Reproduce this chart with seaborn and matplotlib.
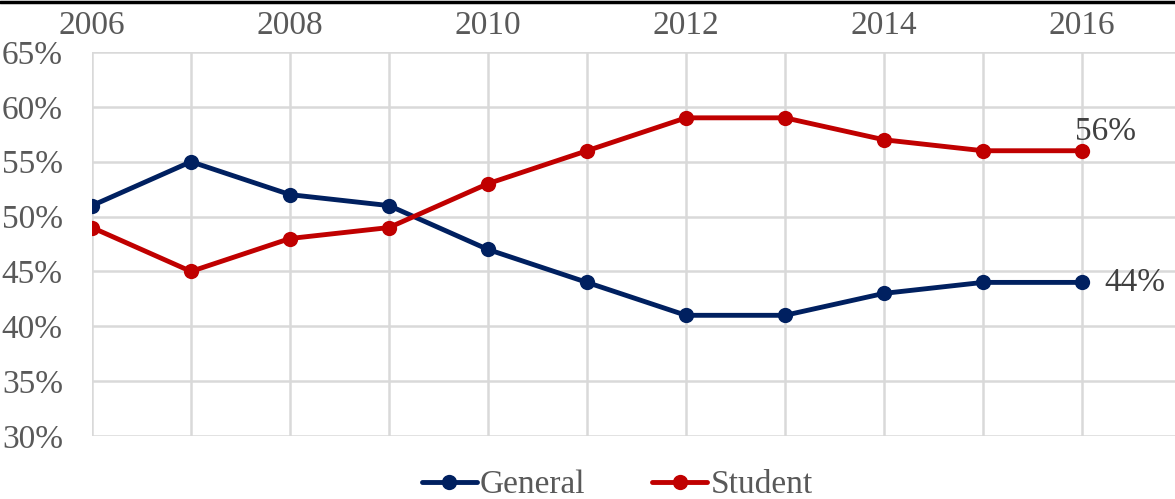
import matplotlib
matplotlib.use("Agg")
import matplotlib.pyplot as plt
import seaborn as sns
import pandas as pd
from matplotlib.lines import Line2D
from matplotlib.ticker import FixedLocator, FuncFormatter

years = [2006, 2007, 2008, 2009, 2010, 2011, 2012, 2013, 2014, 2015, 2016]
general = [51, 55, 52, 51, 47, 44, 41, 41, 43, 44, 44]
student = [49, 45, 48, 49, 53, 56, 59, 59, 57, 56, 56]
series_names = ["General", "Student"]
colors = ["#002060", "#C00000"]
y_ticks = [30, 35, 40, 45, 50, 55, 60, 65]
x_label_years = [2006, 2008, 2010, 2012, 2014, 2016]

sns.set_theme(style="white")
plt.rcParams["font.family"] = ["Liberation Serif", "DejaVu Serif"]

FS = 24

df = pd.DataFrame({"year": years * 2,
                   "value": general + student,
                   "series": [series_names[0]] * len(years) + [series_names[1]] * len(years)})

fig = plt.figure(figsize=(11.75, 4.99), dpi=100)
ax = fig.add_axes([92 / 1175, 1 - 436 / 499, 1 - 92 / 1175, (436 - 52) / 499])

for name, col in zip(series_names, colors):
    sub = df[df["series"] == name]
    sns.lineplot(data=sub, x="year", y="value", ax=ax, color=col, linewidth=3.5,
                 marker="o", markersize=11, markeredgewidth=0, label=name,
                 markeredgecolor=col, markerfacecolor=col)

ax.set_xlim(2006, 2006 + (1175 - 92) / 99.0)
ax.set_ylim(30, 65)
ax.xaxis.tick_top()
ax.xaxis.set_major_locator(FixedLocator(x_label_years))
ax.xaxis.set_minor_locator(FixedLocator([y for y in years if y not in x_label_years]))
ax.xaxis.set_major_formatter(FuncFormatter(lambda v, p: f"{int(v)}"))
ax.yaxis.set_major_locator(FixedLocator(y_ticks))
ax.yaxis.set_major_formatter(FuncFormatter(lambda v, p: f"{int(v)}%"))
ax.tick_params(axis="both", which="both", length=0, labelsize=FS, colors="#595959")
ax.tick_params(axis="x", pad=8)
ax.tick_params(axis="y", pad=21)
ax.grid(True, which="both", color="#D9D9D9", linewidth=1.8)
for s in ax.spines.values():
    s.set_visible(False)
ax.set_xlabel("")
ax.set_ylabel("")
ax.set_axisbelow(True)

ax.annotate(f"{general[-1]}%", (years[-1], general[-1]), xytext=(16, 0), textcoords="offset points",
            ha="left", va="center", fontsize=FS, color="#404040")
ax.annotate(f"{student[-1]}%", (years[-1], student[-1]), xytext=(-5, 3), textcoords="offset points",
            ha="left", va="bottom", fontsize=FS, color="#404040")

leg = ax.legend(loc="center", bbox_to_anchor=(0.485, -0.128), ncol=2, frameon=False,
                fontsize=FS, handlelength=1.65, handletextpad=0.1, columnspacing=2.0,
                borderpad=0.0, labelcolor="#595959")
for txt in leg.get_texts():
    txt.set_color("#595959")

fig.add_artist(Line2D([0, 1], [1 - 1.5 / 499, 1 - 1.5 / 499], transform=fig.transFigure,
                      color="black", linewidth=2.5))

fig.savefig("out.png", dpi=100)
